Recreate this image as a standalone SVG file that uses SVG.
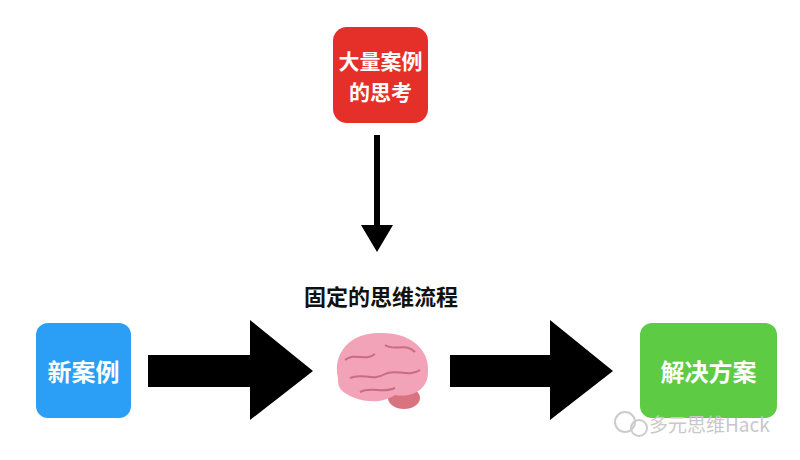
<svg xmlns="http://www.w3.org/2000/svg" width="800" height="460" viewBox="0 0 800 460">
<style>
.t{font-family:"Noto Sans CJK SC","Liberation Sans",sans-serif;font-weight:bold;fill:#fff;text-anchor:middle}
.arr{fill:#000}
</style>
<rect width="800" height="460" fill="#fff"/>
<g id="node-cases"><rect x="333" y="27" width="95" height="96" rx="14" fill="#e5302a"/>
<text class="t" x="380.5" y="69" font-size="21">大量案例</text><text class="t" x="380.5" y="100" font-size="21">的思考</text></g>
<g id="node-new"><rect x="36" y="323" width="95" height="95" rx="12" fill="#2b9ef5"/>
<text class="t" x="83.5" y="381" font-size="24">新案例</text></g>
<g id="node-solution"><rect x="640" y="323" width="137" height="95" rx="12" fill="#5ecb45"/>
<text class="t" x="708.5" y="381" font-size="24">解决方案</text></g>
<g id="node-brain">
<text x="381" y="305" font-family="Noto Sans CJK SC,sans-serif" font-size="22" font-weight="bold" text-anchor="middle" fill="#111">固定的思维流程</text>
<ellipse cx="404" cy="398" rx="16" ry="11" fill="#d9737f"/>
<path d="M338 378 C332 352 352 332 380 333 C408 332 430 348 428 372 C428 390 412 398 395 395 C380 405 358 402 345 393 C338 388 338 384 338 378 Z" fill="#f2a3b7"/>
<path d="M345 360 C355 352 365 362 375 354 M385 345 C395 352 405 342 415 352 M350 378 C362 372 372 382 385 374 C395 368 408 378 420 370 M360 392 C372 386 382 394 395 388" stroke="#c96b84" stroke-width="2" fill="none"/>
</g>
<g id="connectors">
<path class="arr" d="M148 355 H250 V320 L313 371 L250 420 V387 H148 Z"/>
<path class="arr" d="M450 355 H550 V320 L613 371 L550 420 V387 H450 Z"/>
<path class="arr" d="M374 135 H380 V225 H393 L377 252 L361 225 H374 Z"/>
</g>
<g id="watermark">
<circle cx="625" cy="422" r="10" fill="none" stroke="#ccc" stroke-width="2"/>
<circle cx="639" cy="428" r="8" fill="none" stroke="#ccc" stroke-width="2"/>
<text x="649" y="432" font-family="Noto Sans CJK SC,sans-serif" font-size="19" fill="#c8c8c8">多元思维Hack</text>
</g>
</svg>
